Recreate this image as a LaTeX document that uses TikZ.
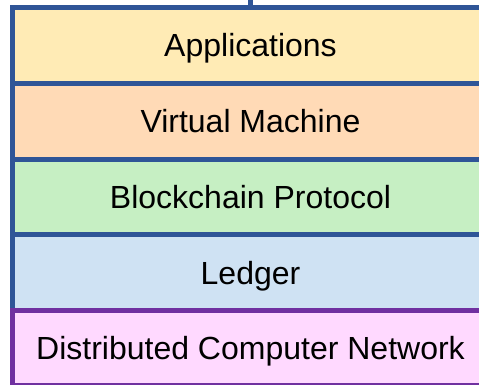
\documentclass[tikz,border=0pt]{standalone}
\usepackage{fontspec}
\setmainfont{Liberation Sans}
\definecolor{frameblue}{HTML}{2F5597}
\definecolor{netpurple}{HTML}{7030A0}
\definecolor{appfill}{HTML}{FFEBB5}
\definecolor{vmfill}{HTML}{FFDAB6}
\definecolor{protofill}{HTML}{C6EFC3}
\definecolor{ledgerfill}{HTML}{CFE2F3}
\definecolor{netfill}{HTML}{FFD9FF}
\tikzset{
  label/.style={inner sep=0pt, outer sep=0pt,
    text height=23pt, text depth=0pt,
    font=\fontsize{32}{38}\selectfont},
  border/.style={line width=5pt, line join=miter, line cap=butt},
  feedline/.style={draw=frameblue, line width=5pt}
}
\begin{document}
\begin{tikzpicture}[x=1pt, y=-1pt]
  \useasboundingbox (0,0) rectangle (479,385);
  % layer bands, running out at the right-hand edge
  \fill[appfill]    (12.5,7.5)    rectangle (479,83.25);
  \fill[vmfill]     (12.5,83.25)  rectangle (479,159);
  \fill[protofill]  (12.5,159)    rectangle (479,234.75);
  \fill[ledgerfill] (12.5,234.75) rectangle (479,310.5);
  \fill[netfill]    (12.5,310.5)  rectangle (479,385);
  \draw[border, draw=frameblue]
    (479,7.5) -- (12.5,7.5) -- (12.5,310.5)
    (12.5,83.25) -- (479,83.25)
    (12.5,159) -- (479,159)
    (12.5,234.75) -- (479,234.75);
  \draw[border, draw=netpurple]
    (479,310.5) -- (12.5,310.5) -- (12.5,385);
  \draw[netpurple, line width=2pt] (12.5,384) -- (479,384);
  % layer names
  \node[label] (app)    at (250.5,45.4)  {Applications};
  \node[label] (vm)     at (250.5,121.1) {Virtual Machine};
  \node[label] (proto)  at (250.5,196.9) {Blockchain Protocol};
  \node[label] (ledger) at (250.5,272.6) {Ledger};
  \node[label] (net)    at (250.5,348.4) {Distributed Computer Network};
  % feed into the top of the stack
  \coordinate (feed) at (250.5,0);
  \coordinate (stacktop) at (250.5,7.5);
  \draw[feedline] (stacktop) -- (feed);
\end{tikzpicture}
\end{document}
